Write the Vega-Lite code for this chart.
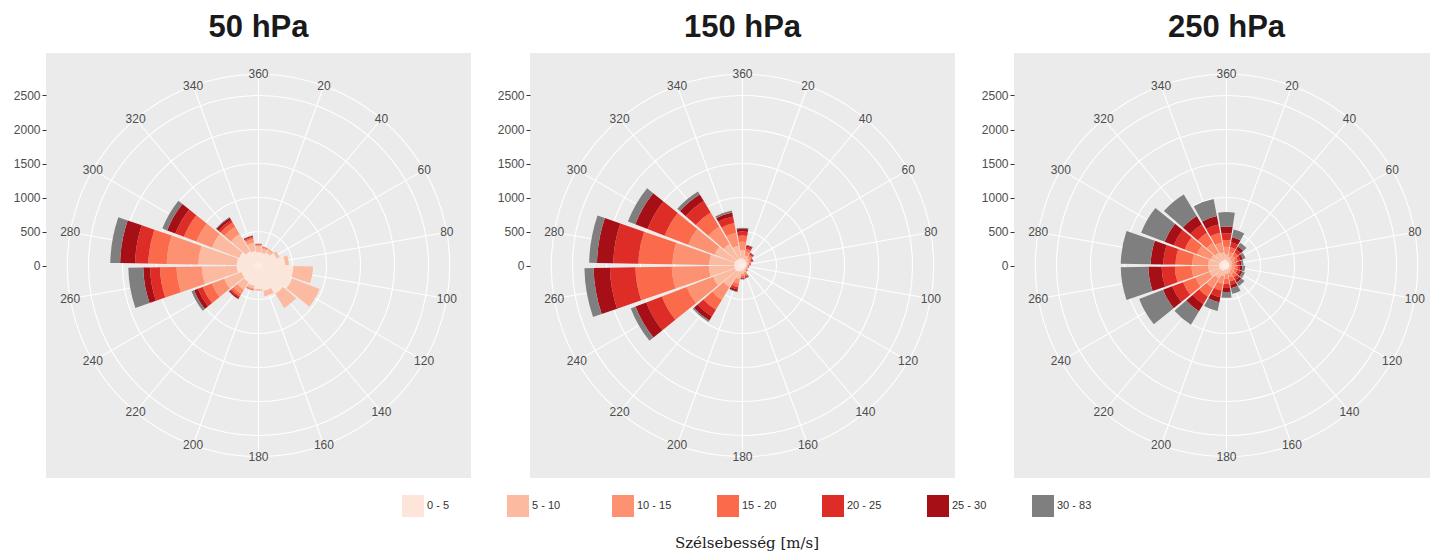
{
  "$schema": "https://vega.github.io/schema/vega-lite/v6.json",
  "background": "white",
  "padding": {"left": 13, "top": 12, "right": 0, "bottom": 0},
  "spacing": 26,
  "datasets": {
    "rings": [{"r": 500}, {"r": 1000}, {"r": 1500}, {"r": 2000}, {"r": 2500}, {"r": 2812.5}],
    "spokes": [
      {"a": 0, "lab": "360"}, {"a": 20, "lab": "20"}, {"a": 40, "lab": "40"}, {"a": 60, "lab": "60"},
      {"a": 80, "lab": "80"}, {"a": 100, "lab": "100"}, {"a": 120, "lab": "120"}, {"a": 140, "lab": "140"},
      {"a": 160, "lab": "160"}, {"a": 180, "lab": "180"}, {"a": 200, "lab": "200"}, {"a": 220, "lab": "220"},
      {"a": 240, "lab": "240"}, {"a": 260, "lab": "260"}, {"a": 280, "lab": "280"}, {"a": 300, "lab": "300"},
      {"a": 320, "lab": "320"}, {"a": 340, "lab": "340"}
    ],
    "wind": [
      {"p": 50, "d": 360, "0 - 5": 195, "5 - 10": 90, "10 - 15": 15, "15 - 20": 10, "20 - 25": 5, "25 - 30": 5, "30 - 83": 0},
      {"p": 50, "d": 20, "0 - 5": 195, "5 - 10": 60, "10 - 15": 15, "15 - 20": 10, "20 - 25": 5, "25 - 30": 0, "30 - 83": 0},
      {"p": 50, "d": 40, "0 - 5": 220, "5 - 10": 50, "10 - 15": 10, "15 - 20": 5, "20 - 25": 0, "25 - 30": 0, "30 - 83": 0},
      {"p": 50, "d": 60, "0 - 5": 285, "5 - 10": 40, "10 - 15": 5, "15 - 20": 0, "20 - 25": 0, "25 - 30": 0, "30 - 83": 0},
      {"p": 50, "d": 80, "0 - 5": 390, "5 - 10": 50, "10 - 15": 5, "15 - 20": 0, "20 - 25": 0, "25 - 30": 0, "30 - 83": 0},
      {"p": 50, "d": 100, "0 - 5": 515, "5 - 10": 280, "10 - 15": 5, "15 - 20": 0, "20 - 25": 0, "25 - 30": 0, "30 - 83": 0},
      {"p": 50, "d": 120, "0 - 5": 530, "5 - 10": 425, "10 - 15": 5, "15 - 20": 0, "20 - 25": 0, "25 - 30": 0, "30 - 83": 0},
      {"p": 50, "d": 140, "0 - 5": 480, "5 - 10": 245, "10 - 15": 5, "15 - 20": 0, "20 - 25": 0, "25 - 30": 0, "30 - 83": 0},
      {"p": 50, "d": 160, "0 - 5": 380, "5 - 10": 75, "10 - 15": 5, "15 - 20": 0, "20 - 25": 0, "25 - 30": 0, "30 - 83": 0},
      {"p": 50, "d": 180, "0 - 5": 345, "5 - 10": 20, "10 - 15": 5, "15 - 20": 0, "20 - 25": 0, "25 - 30": 0, "30 - 83": 0},
      {"p": 50, "d": 200, "0 - 5": 305, "5 - 10": 40, "10 - 15": 15, "15 - 20": 10, "20 - 25": 5, "25 - 30": 0, "30 - 83": 0},
      {"p": 50, "d": 220, "0 - 5": 285, "5 - 10": 130, "10 - 15": 75, "15 - 20": 40, "20 - 25": 25, "25 - 30": 20, "30 - 83": 5},
      {"p": 50, "d": 240, "0 - 5": 270, "5 - 10": 270, "10 - 15": 195, "15 - 20": 145, "20 - 25": 75, "25 - 30": 60, "30 - 83": 40},
      {"p": 50, "d": 260, "0 - 5": 320, "5 - 10": 515, "10 - 15": 370, "15 - 20": 245, "20 - 25": 145, "25 - 30": 100, "30 - 83": 220},
      {"p": 50, "d": 280, "0 - 5": 320, "5 - 10": 565, "10 - 15": 465, "15 - 20": 270, "20 - 25": 195, "25 - 30": 220, "30 - 83": 145},
      {"p": 50, "d": 300, "0 - 5": 305, "5 - 10": 430, "10 - 15": 245, "15 - 20": 195, "20 - 25": 135, "25 - 30": 130, "30 - 83": 75},
      {"p": 50, "d": 320, "0 - 5": 245, "5 - 10": 295, "10 - 15": 125, "15 - 20": 75, "20 - 25": 40, "25 - 30": 40, "30 - 83": 10},
      {"p": 50, "d": 340, "0 - 5": 220, "5 - 10": 125, "10 - 15": 50, "15 - 20": 25, "20 - 25": 10, "25 - 30": 15, "30 - 83": 5},

      {"p": 150, "d": 360, "0 - 5": 100, "5 - 10": 125, "10 - 15": 125, "15 - 20": 90, "20 - 25": 60, "25 - 30": 40, "30 - 83": 15},
      {"p": 150, "d": 20, "0 - 5": 90, "5 - 10": 60, "10 - 15": 60, "15 - 20": 40, "20 - 25": 30, "25 - 30": 20, "30 - 83": 10},
      {"p": 150, "d": 40, "0 - 5": 75, "5 - 10": 50, "10 - 15": 40, "15 - 20": 25, "20 - 25": 20, "25 - 30": 10, "30 - 83": 5},
      {"p": 150, "d": 60, "0 - 5": 70, "5 - 10": 30, "10 - 15": 25, "15 - 20": 20, "20 - 25": 15, "25 - 30": 10, "30 - 83": 5},
      {"p": 150, "d": 80, "0 - 5": 60, "5 - 10": 25, "10 - 15": 15, "15 - 20": 10, "20 - 25": 10, "25 - 30": 5, "30 - 83": 0},
      {"p": 150, "d": 100, "0 - 5": 50, "5 - 10": 20, "10 - 15": 10, "15 - 20": 10, "20 - 25": 5, "25 - 30": 5, "30 - 83": 0},
      {"p": 150, "d": 120, "0 - 5": 50, "5 - 10": 15, "10 - 15": 10, "15 - 20": 5, "20 - 25": 5, "25 - 30": 0, "30 - 83": 0},
      {"p": 150, "d": 140, "0 - 5": 50, "5 - 10": 20, "10 - 15": 15, "15 - 20": 10, "20 - 25": 5, "25 - 30": 5, "30 - 83": 0},
      {"p": 150, "d": 160, "0 - 5": 60, "5 - 10": 40, "10 - 15": 35, "15 - 20": 25, "20 - 25": 20, "25 - 30": 10, "30 - 83": 5},
      {"p": 150, "d": 180, "0 - 5": 70, "5 - 10": 50, "10 - 15": 30, "15 - 20": 25, "20 - 25": 15, "25 - 30": 10, "30 - 83": 5},
      {"p": 150, "d": 200, "0 - 5": 90, "5 - 10": 110, "10 - 15": 75, "15 - 20": 50, "20 - 25": 35, "25 - 30": 30, "30 - 83": 10},
      {"p": 150, "d": 220, "0 - 5": 110, "5 - 10": 260, "10 - 15": 220, "15 - 20": 170, "20 - 25": 115, "25 - 30": 70, "30 - 83": 25},
      {"p": 150, "d": 240, "0 - 5": 120, "5 - 10": 345, "10 - 15": 415, "15 - 20": 390, "20 - 25": 245, "25 - 30": 170, "30 - 83": 75},
      {"p": 150, "d": 260, "0 - 5": 120, "5 - 10": 375, "10 - 15": 545, "15 - 20": 535, "20 - 25": 375, "25 - 30": 240, "30 - 83": 135},
      {"p": 150, "d": 280, "0 - 5": 120, "5 - 10": 370, "10 - 15": 540, "15 - 20": 500, "20 - 25": 370, "25 - 30": 240, "30 - 83": 115},
      {"p": 150, "d": 300, "0 - 5": 120, "5 - 10": 320, "10 - 15": 415, "15 - 20": 370, "20 - 25": 270, "25 - 30": 195, "30 - 83": 115},
      {"p": 150, "d": 320, "0 - 5": 110, "5 - 10": 260, "10 - 15": 295, "15 - 20": 245, "20 - 25": 195, "25 - 30": 115, "30 - 83": 50},
      {"p": 150, "d": 340, "0 - 5": 110, "5 - 10": 185, "10 - 15": 195, "15 - 20": 145, "20 - 25": 100, "25 - 30": 60, "30 - 83": 30},

      {"p": 250, "d": 360, "0 - 5": 75, "5 - 10": 85, "10 - 15": 115, "15 - 20": 100, "20 - 25": 100, "25 - 30": 100, "30 - 83": 210},
      {"p": 250, "d": 20, "0 - 5": 60, "5 - 10": 65, "10 - 15": 75, "15 - 20": 75, "20 - 25": 75, "25 - 30": 75, "30 - 83": 115},
      {"p": 250, "d": 40, "0 - 5": 50, "5 - 10": 50, "10 - 15": 65, "15 - 20": 60, "20 - 25": 50, "25 - 30": 50, "30 - 83": 65},
      {"p": 250, "d": 60, "0 - 5": 45, "5 - 10": 40, "10 - 15": 50, "15 - 20": 45, "20 - 25": 40, "25 - 30": 40, "30 - 83": 40},
      {"p": 250, "d": 80, "0 - 5": 40, "5 - 10": 35, "10 - 15": 40, "15 - 20": 40, "20 - 25": 35, "25 - 30": 30, "30 - 83": 30},
      {"p": 250, "d": 100, "0 - 5": 40, "5 - 10": 35, "10 - 15": 45, "15 - 20": 45, "20 - 25": 35, "25 - 30": 35, "30 - 83": 40},
      {"p": 250, "d": 120, "0 - 5": 40, "5 - 10": 40, "10 - 15": 50, "15 - 20": 45, "20 - 25": 40, "25 - 30": 35, "30 - 83": 40},
      {"p": 250, "d": 140, "0 - 5": 45, "5 - 10": 45, "10 - 15": 60, "15 - 20": 55, "20 - 25": 45, "25 - 30": 40, "30 - 83": 60},
      {"p": 250, "d": 160, "0 - 5": 50, "5 - 10": 60, "10 - 15": 65, "15 - 20": 65, "20 - 25": 50, "25 - 30": 50, "30 - 83": 85},
      {"p": 250, "d": 180, "0 - 5": 55, "5 - 10": 70, "10 - 15": 75, "15 - 20": 70, "20 - 25": 60, "25 - 30": 60, "30 - 83": 85},
      {"p": 250, "d": 200, "0 - 5": 70, "5 - 10": 90, "10 - 15": 115, "15 - 20": 100, "20 - 25": 100, "25 - 30": 75, "30 - 83": 130},
      {"p": 250, "d": 220, "0 - 5": 90, "5 - 10": 130, "10 - 15": 170, "15 - 20": 145, "20 - 25": 125, "25 - 30": 125, "30 - 83": 230},
      {"p": 250, "d": 240, "0 - 5": 100, "5 - 10": 170, "10 - 15": 220, "15 - 20": 195, "20 - 25": 170, "25 - 30": 145, "30 - 83": 375},
      {"p": 250, "d": 260, "0 - 5": 110, "5 - 10": 160, "10 - 15": 245, "15 - 20": 245, "20 - 25": 195, "25 - 30": 195, "30 - 83": 405},
      {"p": 250, "d": 280, "0 - 5": 110, "5 - 10": 160, "10 - 15": 235, "15 - 20": 245, "20 - 25": 180, "25 - 30": 185, "30 - 83": 440},
      {"p": 250, "d": 300, "0 - 5": 100, "5 - 10": 145, "10 - 15": 220, "15 - 20": 195, "20 - 25": 170, "25 - 30": 145, "30 - 83": 370},
      {"p": 250, "d": 320, "0 - 5": 90, "5 - 10": 130, "10 - 15": 170, "15 - 20": 170, "20 - 25": 145, "25 - 30": 145, "30 - 83": 370},
      {"p": 250, "d": 340, "0 - 5": 90, "5 - 10": 110, "10 - 15": 145, "15 - 20": 145, "20 - 25": 125, "25 - 30": 125, "30 - 83": 255}
    ]
  },
  "hconcat": [
    {
      "width": 425, "height": 425,
      "title": "50 hPa",
      "layer": [
        {"data": {"name": "rings"}, "mark": {"type": "arc", "filled": false, "stroke": "white", "strokeWidth": 1.1},
         "encoding": {
           "theta": {"datum": 0, "type": "quantitative", "scale": {"domain": [0, 360], "range": [0, 6.283185307179586]}},
           "theta2": {"datum": 360},
           "radius": {"field": "r", "type": "quantitative", "stack": null, "scale": {"type": "linear", "domain": [0, 2500], "range": [0, 170], "zero": true, "nice": false}}}},
        {"data": {"name": "spokes"}, "mark": {"type": "arc", "filled": false, "stroke": "white", "strokeWidth": 1.1},
         "encoding": {
           "theta": {"field": "a", "type": "quantitative", "stack": null, "scale": {"domain": [0, 360], "range": [0, 6.283185307179586]}},
           "theta2": {"field": "a"},
           "radius": {"datum": 2812.5, "type": "quantitative", "scale": {"type": "linear", "domain": [0, 2500], "range": [0, 170], "zero": true, "nice": false}},
           "radius2": {"datum": 0}}},
        {"data": {"name": "rings"}, "mark": {"type": "point", "opacity": 0},
         "encoding": {
           "y": {"field": "r", "type": "quantitative", "scale": {"domain": [-3125, 3125], "nice": false, "zero": false},
                 "axis": {"values": [0, 500, 1000, 1500, 2000, 2500], "format": "d", "title": null, "grid": false, "domain": false, "tickColor": "#333333", "tickSize": 4, "labelColor": "#4D4D4D", "labelFont": "Liberation Sans", "labelFontSize": 12, "labelPadding": 2}}}},
        {"data": {"name": "wind"},
         "transform": [
           {"filter": "datum.p == 50"},
           {"fold": ["0 - 5", "5 - 10", "10 - 15", "15 - 20", "20 - 25", "25 - 30", "30 - 83"], "as": ["cls", "n"]},
           {"calculate": "indexof(['0 - 5', '5 - 10', '10 - 15', '15 - 20', '20 - 25', '25 - 30', '30 - 83'], datum.cls)", "as": "k"},
           {"stack": "n", "groupby": ["d"], "sort": [{"field": "k", "order": "ascending"}], "as": ["r0", "r1"]},
           {"calculate": "datum.d - 9", "as": "d0"},
           {"calculate": "datum.d + 9", "as": "d1"}
         ],
         "mark": {"type": "arc"},
         "encoding": {
           "theta": {"field": "d0", "type": "quantitative", "stack": null, "scale": {"domain": [0, 360], "range": [0, 6.283185307179586]}},
           "theta2": {"field": "d1"},
           "radius": {"field": "r1", "type": "quantitative", "stack": null, "scale": {"type": "linear", "domain": [0, 2500], "range": [0, 170], "zero": true, "nice": false}},
           "radius2": {"field": "r0"},
           "color": {"field": "cls", "type": "nominal", "title": "Szélsebesség [m/s]",
             "scale": {"domain": ["0 - 5", "5 - 10", "10 - 15", "15 - 20", "20 - 25", "25 - 30", "30 - 83"], "range": ["#FEE5D9", "#FCBBA1", "#FC9272", "#FB6A4A", "#DE2D26", "#A50F15", "#7F7F7F"]},
             "legend": {"orient": "none", "legendX": 356, "legendY": 442, "direction": "horizontal", "columns": 7, "gridAlign": "all", "columnPadding": 45, "symbolType": "square", "symbolSize": 484, "symbolStrokeWidth": 0, "symbolOpacity": 1, "labelFont": "Liberation Sans", "labelFontSize": 11, "labelColor": "#333333", "labelOffset": 3, "titleOrient": "bottom", "titleAnchor": "middle", "titleFont": "DejaVu Serif", "titleFontSize": 15, "titleFontWeight": "normal", "titleColor": "#222222", "titlePadding": 19}}}},
        {"data": {"name": "spokes"}, "mark": {"type": "text", "font": "Liberation Sans", "fontSize": 12, "color": "#4D4D4D", "align": "center", "baseline": "middle"},
         "encoding": {
           "theta": {"field": "a", "type": "quantitative", "stack": null, "scale": {"domain": [0, 360], "range": [0, 6.283185307179586]}},
           "radius": {"datum": 2812.5, "type": "quantitative", "scale": {"type": "linear", "domain": [0, 2500], "range": [0, 170], "zero": true, "nice": false}},
           "text": {"field": "lab"}}}
      ]
    },
    {
      "width": 425, "height": 425,
      "title": "150 hPa",
      "layer": [
        {"data": {"name": "rings"}, "mark": {"type": "arc", "filled": false, "stroke": "white", "strokeWidth": 1.1},
         "encoding": {
           "theta": {"datum": 0, "type": "quantitative", "scale": {"domain": [0, 360], "range": [0, 6.283185307179586]}},
           "theta2": {"datum": 360},
           "radius": {"field": "r", "type": "quantitative", "stack": null, "scale": {"type": "linear", "domain": [0, 2500], "range": [0, 170], "zero": true, "nice": false}}}},
        {"data": {"name": "spokes"}, "mark": {"type": "arc", "filled": false, "stroke": "white", "strokeWidth": 1.1},
         "encoding": {
           "theta": {"field": "a", "type": "quantitative", "stack": null, "scale": {"domain": [0, 360], "range": [0, 6.283185307179586]}},
           "theta2": {"field": "a"},
           "radius": {"datum": 2812.5, "type": "quantitative", "scale": {"type": "linear", "domain": [0, 2500], "range": [0, 170], "zero": true, "nice": false}},
           "radius2": {"datum": 0}}},
        {"data": {"name": "rings"}, "mark": {"type": "point", "opacity": 0},
         "encoding": {
           "y": {"field": "r", "type": "quantitative", "scale": {"domain": [-3125, 3125], "nice": false, "zero": false},
                 "axis": {"values": [0, 500, 1000, 1500, 2000, 2500], "format": "d", "title": null, "grid": false, "domain": false, "tickColor": "#333333", "tickSize": 4, "labelColor": "#4D4D4D", "labelFont": "Liberation Sans", "labelFontSize": 12, "labelPadding": 2}}}},
        {"data": {"name": "wind"},
         "transform": [
           {"filter": "datum.p == 150"},
           {"fold": ["0 - 5", "5 - 10", "10 - 15", "15 - 20", "20 - 25", "25 - 30", "30 - 83"], "as": ["cls", "n"]},
           {"calculate": "indexof(['0 - 5', '5 - 10', '10 - 15', '15 - 20', '20 - 25', '25 - 30', '30 - 83'], datum.cls)", "as": "k"},
           {"stack": "n", "groupby": ["d"], "sort": [{"field": "k", "order": "ascending"}], "as": ["r0", "r1"]},
           {"calculate": "datum.d - 9", "as": "d0"},
           {"calculate": "datum.d + 9", "as": "d1"}
         ],
         "mark": {"type": "arc"},
         "encoding": {
           "theta": {"field": "d0", "type": "quantitative", "stack": null, "scale": {"domain": [0, 360], "range": [0, 6.283185307179586]}},
           "theta2": {"field": "d1"},
           "radius": {"field": "r1", "type": "quantitative", "stack": null, "scale": {"type": "linear", "domain": [0, 2500], "range": [0, 170], "zero": true, "nice": false}},
           "radius2": {"field": "r0"},
           "color": {"field": "cls", "type": "nominal", "title": "Szélsebesség [m/s]",
             "scale": {"domain": ["0 - 5", "5 - 10", "10 - 15", "15 - 20", "20 - 25", "25 - 30", "30 - 83"], "range": ["#FEE5D9", "#FCBBA1", "#FC9272", "#FB6A4A", "#DE2D26", "#A50F15", "#7F7F7F"]},
             "legend": {"orient": "none", "legendX": 356, "legendY": 442, "direction": "horizontal", "columns": 7, "gridAlign": "all", "columnPadding": 45, "symbolType": "square", "symbolSize": 484, "symbolStrokeWidth": 0, "symbolOpacity": 1, "labelFont": "Liberation Sans", "labelFontSize": 11, "labelColor": "#333333", "labelOffset": 3, "titleOrient": "bottom", "titleAnchor": "middle", "titleFont": "DejaVu Serif", "titleFontSize": 15, "titleFontWeight": "normal", "titleColor": "#222222", "titlePadding": 19}}}},
        {"data": {"name": "spokes"}, "mark": {"type": "text", "font": "Liberation Sans", "fontSize": 12, "color": "#4D4D4D", "align": "center", "baseline": "middle"},
         "encoding": {
           "theta": {"field": "a", "type": "quantitative", "stack": null, "scale": {"domain": [0, 360], "range": [0, 6.283185307179586]}},
           "radius": {"datum": 2812.5, "type": "quantitative", "scale": {"type": "linear", "domain": [0, 2500], "range": [0, 170], "zero": true, "nice": false}},
           "text": {"field": "lab"}}}
      ]
    },
    {
      "width": 425, "height": 425,
      "title": "250 hPa",
      "layer": [
        {"data": {"name": "rings"}, "mark": {"type": "arc", "filled": false, "stroke": "white", "strokeWidth": 1.1},
         "encoding": {
           "theta": {"datum": 0, "type": "quantitative", "scale": {"domain": [0, 360], "range": [0, 6.283185307179586]}},
           "theta2": {"datum": 360},
           "radius": {"field": "r", "type": "quantitative", "stack": null, "scale": {"type": "linear", "domain": [0, 2500], "range": [0, 170], "zero": true, "nice": false}}}},
        {"data": {"name": "spokes"}, "mark": {"type": "arc", "filled": false, "stroke": "white", "strokeWidth": 1.1},
         "encoding": {
           "theta": {"field": "a", "type": "quantitative", "stack": null, "scale": {"domain": [0, 360], "range": [0, 6.283185307179586]}},
           "theta2": {"field": "a"},
           "radius": {"datum": 2812.5, "type": "quantitative", "scale": {"type": "linear", "domain": [0, 2500], "range": [0, 170], "zero": true, "nice": false}},
           "radius2": {"datum": 0}}},
        {"data": {"name": "rings"}, "mark": {"type": "point", "opacity": 0},
         "encoding": {
           "y": {"field": "r", "type": "quantitative", "scale": {"domain": [-3125, 3125], "nice": false, "zero": false},
                 "axis": {"values": [0, 500, 1000, 1500, 2000, 2500], "format": "d", "title": null, "grid": false, "domain": false, "tickColor": "#333333", "tickSize": 4, "labelColor": "#4D4D4D", "labelFont": "Liberation Sans", "labelFontSize": 12, "labelPadding": 2}}}},
        {"data": {"name": "wind"},
         "transform": [
           {"filter": "datum.p == 250"},
           {"fold": ["0 - 5", "5 - 10", "10 - 15", "15 - 20", "20 - 25", "25 - 30", "30 - 83"], "as": ["cls", "n"]},
           {"calculate": "indexof(['0 - 5', '5 - 10', '10 - 15', '15 - 20', '20 - 25', '25 - 30', '30 - 83'], datum.cls)", "as": "k"},
           {"stack": "n", "groupby": ["d"], "sort": [{"field": "k", "order": "ascending"}], "as": ["r0", "r1"]},
           {"calculate": "datum.d - 9", "as": "d0"},
           {"calculate": "datum.d + 9", "as": "d1"}
         ],
         "mark": {"type": "arc"},
         "encoding": {
           "theta": {"field": "d0", "type": "quantitative", "stack": null, "scale": {"domain": [0, 360], "range": [0, 6.283185307179586]}},
           "theta2": {"field": "d1"},
           "radius": {"field": "r1", "type": "quantitative", "stack": null, "scale": {"type": "linear", "domain": [0, 2500], "range": [0, 170], "zero": true, "nice": false}},
           "radius2": {"field": "r0"},
           "color": {"field": "cls", "type": "nominal", "title": "Szélsebesség [m/s]",
             "scale": {"domain": ["0 - 5", "5 - 10", "10 - 15", "15 - 20", "20 - 25", "25 - 30", "30 - 83"], "range": ["#FEE5D9", "#FCBBA1", "#FC9272", "#FB6A4A", "#DE2D26", "#A50F15", "#7F7F7F"]},
             "legend": {"orient": "none", "legendX": 356, "legendY": 442, "direction": "horizontal", "columns": 7, "gridAlign": "all", "columnPadding": 45, "symbolType": "square", "symbolSize": 484, "symbolStrokeWidth": 0, "symbolOpacity": 1, "labelFont": "Liberation Sans", "labelFontSize": 11, "labelColor": "#333333", "labelOffset": 3, "titleOrient": "bottom", "titleAnchor": "middle", "titleFont": "DejaVu Serif", "titleFontSize": 15, "titleFontWeight": "normal", "titleColor": "#222222", "titlePadding": 19}}}},
        {"data": {"name": "spokes"}, "mark": {"type": "text", "font": "Liberation Sans", "fontSize": 12, "color": "#4D4D4D", "align": "center", "baseline": "middle"},
         "encoding": {
           "theta": {"field": "a", "type": "quantitative", "stack": null, "scale": {"domain": [0, 360], "range": [0, 6.283185307179586]}},
           "radius": {"datum": 2812.5, "type": "quantitative", "scale": {"type": "linear", "domain": [0, 2500], "range": [0, 170], "zero": true, "nice": false}},
           "text": {"field": "lab"}}}
      ]
    }
  ],
  "resolve": {"scale": {"color": "shared"}, "legend": {"color": "shared"}},
  "config": {
    "view": {"fill": "#EBEBEB", "stroke": null},
    "font": "Liberation Sans",
    "title": {"font": "Liberation Sans", "fontSize": 31, "fontWeight": "bold", "color": "#1A1A1A", "anchor": "middle", "offset": 9}
  }
}
